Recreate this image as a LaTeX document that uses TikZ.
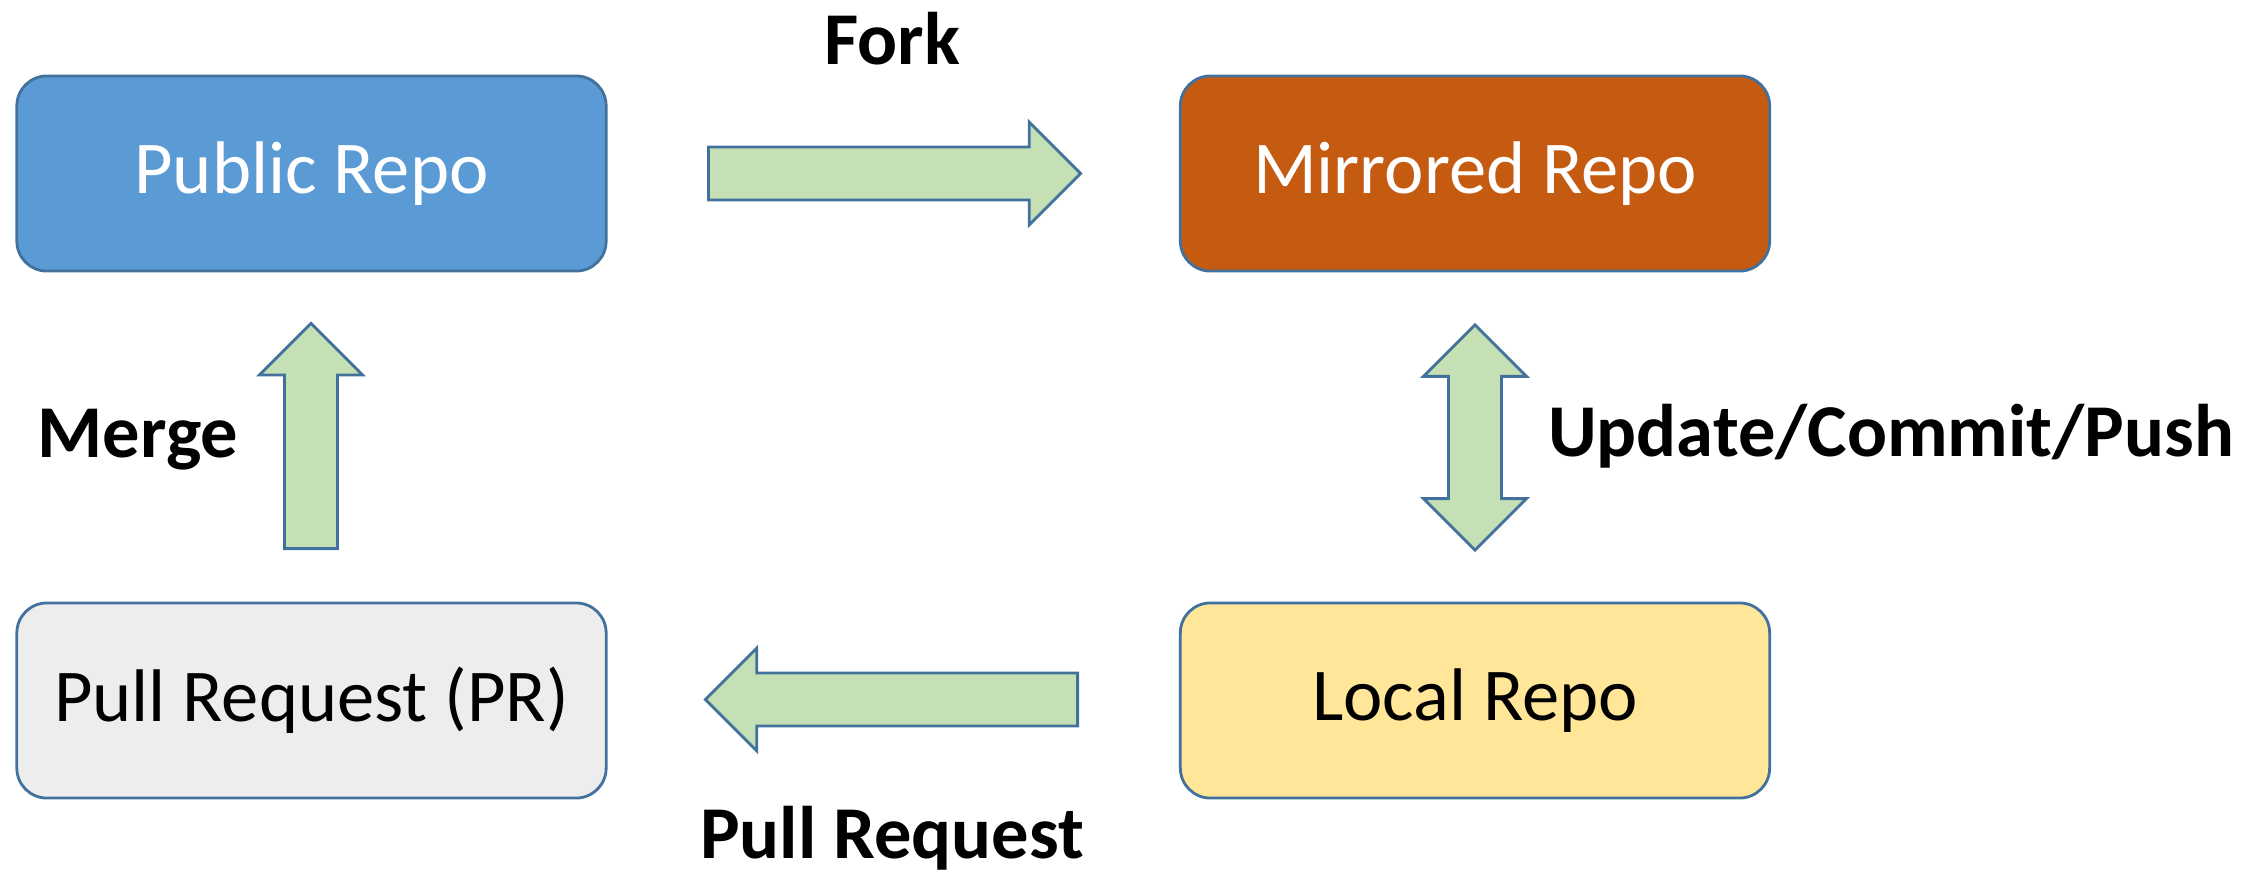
\documentclass[tikz,border=0pt]{standalone}
\usepackage{fontspec}
\setmainfont{Carlito}
\usetikzlibrary{shapes.arrows}
\definecolor{pubblue}{HTML}{5B9BD5}
\definecolor{mirorange}{HTML}{C55A11}
\definecolor{locyellow}{HTML}{FFE699}
\definecolor{prgrey}{HTML}{EDEDED}
\definecolor{edgeblue}{HTML}{41719C}
\definecolor{arrgreen}{HTML}{C5E0B4}
\tikzset{
	repo/.style={draw=edgeblue,line width=0.8pt,rounded corners=0.3cm,minimum width=5.89cm,minimum height=1.95cm,font=\fontsize{21.2}{25}\selectfont},
	fatarrow/.style={single arrow,draw=edgeblue,fill=arrgreen,line width=0.8pt,inner sep=0.25cm,minimum height=3.72cm,single arrow head extend=0.25cm,single arrow head indent=0pt,anchor=tail},
	twoway/.style={double arrow,draw=edgeblue,fill=arrgreen,line width=0.8pt,inner sep=0.25cm,minimum height=2.25cm,double arrow head extend=0.25cm,double arrow head indent=0pt,shape border rotate=90},
	lbl/.style={font=\fontsize{21.2}{25}\selectfont\bfseries}
}
\begin{document}
\begin{tikzpicture}[x=0.01cm,y=-0.01cm]
		\useasboundingbox (0,0) rectangle (2262,875);
		% the four repos
		\node[repo,fill=pubblue,text=white] (public) at (311.5,173.5) {Public Repo};
		\node[repo,fill=mirorange,text=white] (mirror) at (1475,173.5) {Mirrored Repo};
		\node[repo,fill=prgrey] (pr) at (311.5,700.5) {Pull Request (PR)};
		\node[repo,fill=locyellow] (local) at (1475,700.5) {Local Repo};

		% block arrows (placed by their tails)
		\node[fatarrow] (fork) at (707,173.5) {};
		\node[fatarrow,shape border rotate=180] (pull) at (1079,699.5) {};
		\node[fatarrow,shape border rotate=90,minimum height=2.25cm] (merge) at (311,550) {};
		\node[twoway] (sync) at (1475,437.5) {};

		% labels
		\node[lbl] (forklbl) at (892,39) {Fork};
		\node[lbl] (mergelbl) at (138,440) {Merge};
		\node[lbl] (synclbl) at (1891,436) {Update/Commit/Push};
		\node[lbl] (pulllbl) at (892,838) {Pull Request};
\end{tikzpicture}
\end{document}
